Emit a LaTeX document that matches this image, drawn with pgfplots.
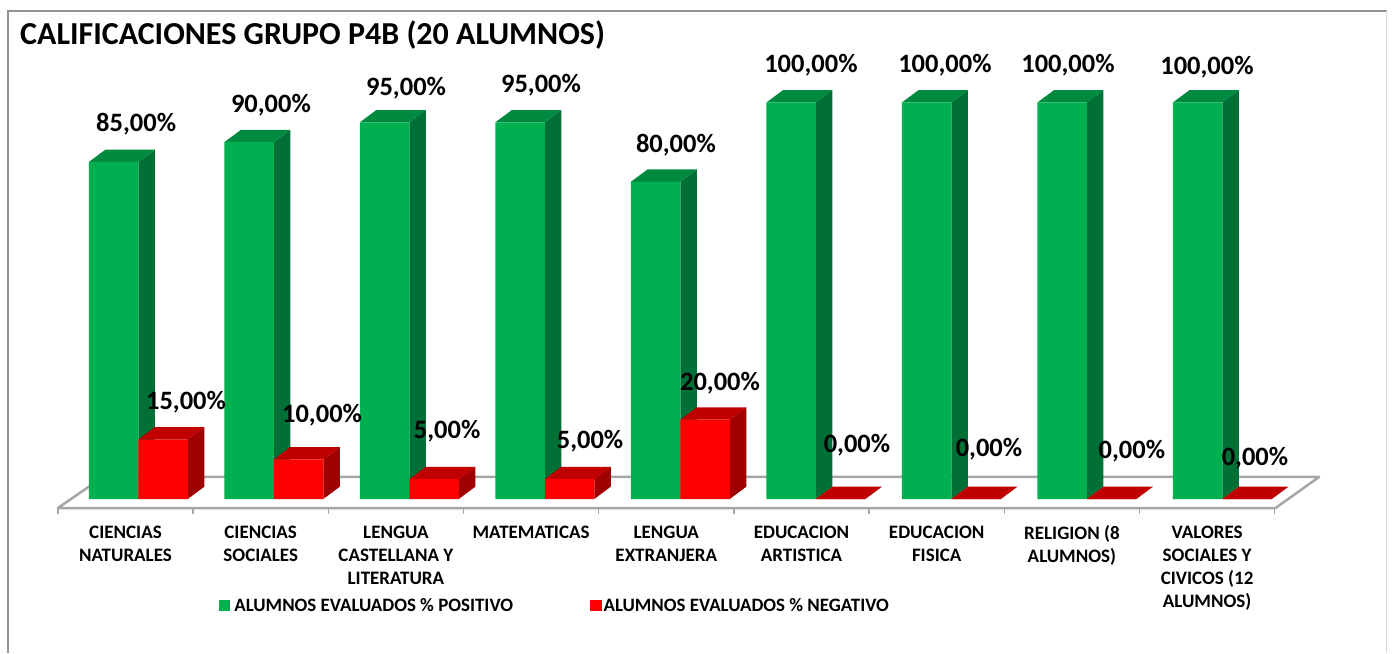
\documentclass[border=0pt]{standalone}
\usepackage{fontspec}
\setmainfont{Carlito}
\usepackage{pgfplots}
\usepackage{pgfplotstable}
\pgfplotsset{compat=1.18}
\definecolor{gfront}{HTML}{00B050}
\definecolor{gtop}{HTML}{008A40}
\definecolor{gside}{HTML}{007036}
\definecolor{rfront}{HTML}{FF0000}
\definecolor{rtop}{HTML}{C00000}
\definecolor{rside}{HTML}{A00000}
\definecolor{floorgray}{HTML}{A6A6A6}

% boundary between the two bars of group i sits at x=i
\pgfplotstableread{
pos pos2 verde rojo
0 0.365 85 15
1 1.365 90 10
2 2.365 95 5
3 3.365 95 5
4 4.365 80 20
5 5.365 100 0
6 6.365 100 0
7 7.365 100 0
8 8.365 100 0
}\califs

\pgfplotstableread{
lx ly txt
-0.016 94.58 85,00
0.979 99.37 90,00
1.976 103.66 95,00
2.972 104.42 95,00
3.968 89.29 80,00
4.964 109.46 100,00
5.953 109.46 100,00
6.861 109.46 100,00
7.887 108.96 100,00
0.352 24.47 15,00
1.356 21.19 10,00
2.279 17.15 5,00
3.334 14.63 5,00
4.293 29.26 20,00
5.304 13.62 0,00
6.278 12.61 0,00
7.333 12.11 0,00
8.241 10.34 0,00
}\etiquetas

% top and side face of one bar: right edge of front, value, colours
\newcommand\caras[4]{%
  \pgfmathsetmacro\xr{#1}%
  \pgfmathsetmacro\xl{#1-0.365}%
  \pgfmathsetmacro\xrb{#1+0.122}%
  \pgfmathsetmacro\xlb{#1-0.365+0.122}%
  \pgfmathsetmacro\vb{#2+3.1}%
  \addplot[fill=#4,draw=none,forget plot] coordinates {(\xr,0) (\xrb,3.1) (\xrb,\vb) (\xr,#2)} -- cycle;
  \addplot[fill=#3,draw=none,forget plot] coordinates {(\xl,#2) (\xr,#2) (\xrb,\vb) (\xlb,\vb)} -- cycle;
}

\pgfplotsset{sqleg/.style={legend image code/.code={\fill[##1] (0pt,-5.5pt) rectangle (11.5pt,5.5pt);}}}

\begin{document}
\begin{tikzpicture}
\begin{axis}[
    scale only axis,
    width=1393pt, height=653pt,
    xmin=-1.0207, xmax=9.2598,
    ymin=-38.84, ymax=125.85,
    axis line style={draw=none},
    ytick=\empty,
    major tick length=0pt,
    tick style={draw=none},
    unbounded coords=jump,
    xtick={-0.0945,0.9033,1.9011,2.8989,3.8967,4.8945,5.8923,6.8901,7.8878},
    xticklabels={{CIENCIAS\\NATURALES},{CIENCIAS\\SOCIALES},{LENGUA\\CASTELLANA Y\\LITERATURA},{MATEMATICAS},{LENGUA\\EXTRANJERA},{EDUCACION\\ARTISTICA},{EDUCACION\\FISICA},{RELIGION (8\\ALUMNOS)},{VALORES\\SOCIALES Y\\CIVICOS (12\\ALUMNOS)}},
    xticklabel style={align=center, anchor=north, inner sep=0pt, yshift=127.5pt,
        font=\fontsize{19}{23}\selectfont\bfseries},
    title={CALIFICACIONES GRUPO P4B (20 ALUMNOS)},
    title style={at={(axis description cs:0.01436,0.937)}, anchor=west, inner sep=0pt,
        font=\fontsize{32}{35}\selectfont\bfseries},
    legend columns=2,
    legend cell align=left,
    legend style={at={(axis description cs:0.157,0.0725)}, anchor=west, draw=none, fill=none,
        inner sep=0pt, font=\fontsize{18.9}{22}\selectfont\bfseries,
        /tikz/every even column/.append style={column sep=75pt}},
]
% chart frame
\addplot[color=gray!85, line width=2pt, forget plot] coordinates {(-0.9616,-38.84) (-0.9616,123.08) (9.213,123.08)};
\addplot[color=gray!30, line width=1.5pt, forget plot] coordinates {(9.213,123.08) (9.213,-38.84)};
% floor and category ticks
\addplot[color=floorgray, line width=2.5pt, line join=round, forget plot] coordinates {(-0.5934,-2.27) (8.393,-2.27) (8.714,5.55) (-0.2605,5.55)} -- cycle;
\addplot[color=floorgray, line width=1.5pt, forget plot] coordinates {
    (-0.5934,-2.27) (-0.5934,-3.78) (nan,nan)
    (0.4044,-2.27) (0.4044,-3.78) (nan,nan)
    (1.4022,-2.27) (1.4022,-3.78) (nan,nan)
    (2.4,-2.27) (2.4,-3.78) (nan,nan)
    (3.3978,-2.27) (3.3978,-3.78) (nan,nan)
    (4.3956,-2.27) (4.3956,-3.78) (nan,nan)
    (5.3934,-2.27) (5.3934,-3.78) (nan,nan)
    (6.3911,-2.27) (6.3911,-3.78) (nan,nan)
    (7.3889,-2.27) (7.3889,-3.78) (nan,nan)
    (8.3867,-2.27) (8.3867,-3.78)
};
% green bars
\pgfplotsforeachungrouped \i in {0,...,8}{%
  \pgfplotstablegetelem{\i}{pos}\of\califs \let\px\pgfplotsretval
  \pgfplotstablegetelem{\i}{verde}\of\califs \let\pv\pgfplotsretval
  \caras{\px}{\pv}{gtop}{gside}%
}
\addplot[ybar, bar width=49.5pt, bar shift=-24.75pt, fill=gfront, draw=none, sqleg] table[x=pos, y=verde] {\califs};
\addlegendentry{\hspace{2pt}ALUMNOS EVALUADOS \% POSITIVO}
% red bars
\pgfplotsforeachungrouped \i in {0,...,8}{%
  \pgfplotstablegetelem{\i}{pos2}\of\califs \let\px\pgfplotsretval
  \pgfplotstablegetelem{\i}{rojo}\of\califs \let\pv\pgfplotsretval
  \caras{\px}{\pv}{rtop}{rside}%
}
\addplot[ybar, bar width=49.5pt, bar shift=24.75pt, fill=rfront, draw=none, sqleg] table[x=pos, y=rojo] {\califs};
\addlegendentry{ALUMNOS EVALUADOS \% NEGATIVO}
% data labels
\addplot[only marks, mark=none, forget plot, point meta=explicit symbolic,
    nodes near coords={\pgfplotspointmeta\%},
    every node near coord/.append style={anchor=center, inner sep=0pt, black,
        font=\fontsize{26.5}{28}\selectfont\bfseries}]
    table[x=lx, y=ly, meta=txt] {\etiquetas};
\end{axis}
\end{tikzpicture}
\end{document}
